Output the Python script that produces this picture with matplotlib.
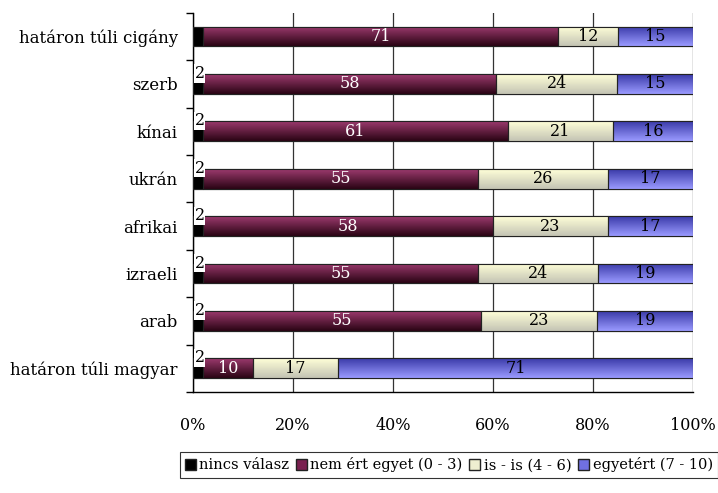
import numpy as np
import matplotlib
matplotlib.use('Agg')
import matplotlib.pyplot as plt
from matplotlib.colors import LinearSegmentedColormap
from matplotlib.patches import Patch

plt.rcParams['font.family'] = ['DejaVu Serif']
plt.rcParams['font.size'] = 10.5

# Data (top to bottom)
categories = ['határon túli cigány', 'szerb', 'kínai', 'ukrán', 'afrikai',
              'izraeli', 'arab', 'határon túli magyar']
nincs = [2, 2, 2, 2, 2, 2, 2, 2]
nem_ert = [71, 58, 61, 55, 58, 55, 55, 10]
is_is = [12, 24, 21, 26, 23, 24, 23, 17]
egyetert = [15, 15, 16, 17, 17, 19, 19, 71]
series_names = ['nincs válasz', 'nem ért egyet (0 - 3)', 'is - is (4 - 6)', 'egyetért (7 - 10)']
show_nincs_label = [False, True, True, True, True, True, True, True]

# gradient colours: (top, bottom)
grads = [('#000000', '#000000'),
         ('#9c3a6e', '#2a0414'),
         ('#ffffd8', '#c4c4b4'),
         ('#3a3aa8', '#9a9aff')]
solid = ['#000000', '#7a2050', '#eeeed0', '#7070e0']
text_cols = ['black', 'white', 'black', 'black']

fig = plt.figure(figsize=(7.18, 4.93), dpi=100)
ax = fig.add_axes([0.269, 0.205, 0.696, 0.769])

data = np.array([nincs, nem_ert, is_is, egyetert], dtype=float)
pct = data / data.sum(axis=0) * 100
y = np.arange(len(categories))
h = 0.42
left = np.zeros(len(categories))

for k in range(4):
    bars = ax.barh(y, pct[k], left=left, height=h, color=solid[k],
                   edgecolor='#222222', linewidth=0.8, zorder=3)
    cmap = LinearSegmentedColormap.from_list('g%d' % k, [grads[k][0], grads[k][1]])
    grad = np.linspace(0, 1, 64).reshape(-1, 1)
    for b in bars:
        x0, yb = b.get_x(), b.get_y()
        w, hh = b.get_width(), b.get_height()
        im = ax.imshow(grad, cmap=cmap, aspect='auto', zorder=3.5,
                       extent=(x0, x0 + w, yb + hh, yb), interpolation='bilinear')
        im.set_clip_path(b)
        ax.add_patch(plt.Rectangle((x0, yb), w, hh, fill=False,
                                   edgecolor='#222222', linewidth=0.8, zorder=4))
    if k > 0:
        for i, (l, v) in enumerate(zip(left, pct[k])):
            ax.text(l + v / 2, i, '%d' % data[k][i], ha='center', va='center',
                    color=text_cols[k], fontsize=11.5, zorder=6)
    left = left + pct[k]

for i in range(len(categories)):
    if show_nincs_label[i]:
        ax.text(0.3, i - 0.22, '%d' % nincs[i], ha='left', va='center', fontsize=11.5,
                zorder=7, bbox=dict(facecolor='white', edgecolor='none', pad=0.5))

ax.set_xlim(0, 100)
ax.set_ylim(len(categories) - 0.5, -0.5)
ax.set_xticks([0, 20, 40, 60, 80, 100])
ax.set_xticklabels(['0%', '20%', '40%', '60%', '80%', '100%'], fontsize=11.5)
ax.set_yticks(y)
ax.set_yticklabels(categories, fontsize=12)
ax.tick_params(axis='y', which='major', length=0, pad=11)
ax.set_yticks(np.arange(-0.5, len(categories), 1), minor=True)
ax.tick_params(axis='y', which='minor', length=5, width=1, direction='out')
ax.tick_params(axis='x', length=0, pad=18)
ax.grid(axis='x', color='#333333', linewidth=0.9, zorder=0)
for s in ['top', 'right']:
    ax.spines[s].set_visible(False)
ax.spines['left'].set_linewidth(1)
ax.spines['bottom'].set_linewidth(1)

handles = [Patch(facecolor=solid[k], edgecolor='#222222', label=series_names[k]) for k in range(4)]
leg = fig.legend(handles=handles, loc='center', bbox_to_anchor=(0.625, 0.057), ncol=4,
                 fontsize=10.5, frameon=True, fancybox=False, edgecolor='black',
                 handlelength=0.75, handleheight=0.75, handletextpad=0.25, columnspacing=0.45,
                 borderpad=0.35, borderaxespad=0)
leg.get_frame().set_linewidth(0.8)

fig.savefig('out.png', dpi=100)
